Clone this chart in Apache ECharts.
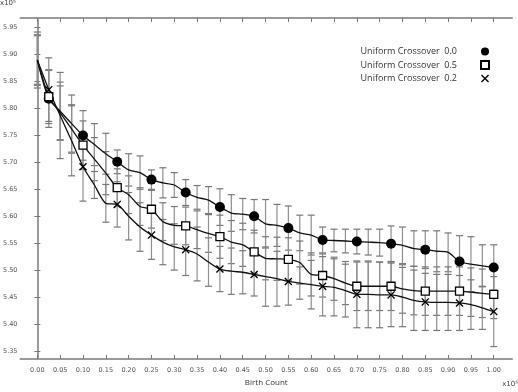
<!DOCTYPE html>
<html>
<head>
<meta charset="utf-8">
<script src="https://cdn.jsdelivr.net/npm/echarts@6/dist/echarts.min.js"></script>
<style>
html,body{margin:0;padding:0;background:#fff;}
#c{width:518px;height:392px;}
</style>
</head>
<body>
<div id="c"></div>
<script>
// Birth count (x10^5)
var birthCounts = [0.000,0.025,0.050,0.075,0.100,0.125,0.150,0.175,0.200,0.225,0.250,0.275,0.300,0.325,0.350,0.375,0.400,0.425,0.450,0.475,0.500,0.525,0.550,0.575,0.600,0.625,0.650,0.675,0.700,0.725,0.750,0.775,0.800,0.825,0.850,0.875,0.900,0.925,0.950,0.975,1.000];

// Uniform Crossover 0.0 (circles)
var meanA = [5.890,5.818,5.795,5.772,5.750,5.733,5.716,5.701,5.686,5.681,5.668,5.662,5.658,5.644,5.635,5.630,5.617,5.606,5.604,5.600,5.586,5.583,5.578,5.569,5.565,5.556,5.555,5.554,5.553,5.552,5.551,5.549,5.546,5.540,5.538,5.535,5.533,5.516,5.511,5.508,5.505];
var errA  = [0.047,0.053,0.054,0.053,0.046,0.039,0.038,0.022,0.030,0.031,0.018,0.028,0.023,0.024,0.022,0.025,0.034,0.034,0.029,0.031,0.045,0.039,0.041,0.033,0.037,0.024,0.021,0.022,0.023,0.024,0.025,0.033,0.034,0.033,0.035,0.038,0.036,0.048,0.051,0.039,0.042];

// Uniform Crossover 0.5 (squares)
var meanB = [5.890,5.822,5.792,5.762,5.732,5.706,5.680,5.653,5.640,5.618,5.613,5.590,5.583,5.582,5.575,5.568,5.562,5.552,5.547,5.534,5.522,5.521,5.520,5.514,5.492,5.490,5.484,5.476,5.470,5.470,5.470,5.470,5.465,5.462,5.461,5.461,5.461,5.461,5.459,5.457,5.455];
var errB  = [0.045,0.050,0.050,0.045,0.045,0.040,0.040,0.035,0.035,0.035,0.035,0.035,0.035,0.035,0.035,0.035,0.040,0.040,0.040,0.040,0.040,0.040,0.040,0.040,0.040,0.040,0.040,0.040,0.045,0.045,0.045,0.045,0.045,0.045,0.045,0.045,0.045,0.045,0.045,0.045,0.045];

// Uniform Crossover 0.2 (crosses)
var meanC = [5.890,5.835,5.787,5.740,5.692,5.658,5.624,5.622,5.600,5.580,5.565,5.552,5.543,5.538,5.530,5.515,5.502,5.498,5.496,5.492,5.488,5.484,5.479,5.476,5.473,5.470,5.468,5.462,5.455,5.455,5.454,5.454,5.450,5.444,5.441,5.440,5.440,5.439,5.436,5.430,5.423];
var errC  = [0.052,0.059,0.080,0.065,0.064,0.025,0.035,0.042,0.044,0.045,0.045,0.042,0.043,0.048,0.050,0.045,0.042,0.043,0.040,0.040,0.055,0.051,0.044,0.030,0.045,0.055,0.053,0.049,0.062,0.062,0.061,0.059,0.055,0.056,0.053,0.052,0.052,0.051,0.046,0.040,0.065];

var xTicks = [0,0.05,0.10,0.15,0.20,0.25,0.30,0.35,0.40,0.45,0.50,0.55,0.60,0.65,0.70,0.75,0.80,0.85,0.90,0.95,1.00];
var yTicks = [5.35,5.40,5.45,5.50,5.55,5.60,5.65,5.70,5.75,5.80,5.85,5.90,5.95];

var names = ['Uniform Crossover  0.0','Uniform Crossover  0.5','Uniform Crossover  0.2'];
var crossPath = 'path://M0,1.2 L1.2,0 L5,3.8 L8.8,0 L10,1.2 L6.2,5 L10,8.8 L8.8,10 L5,6.2 L1.2,10 L0,8.8 L3.8,5 Z';

function pairs(mean){ return birthCounts.map(function(x,i){ return [x, mean[i]]; }); }
function errData(mean, err){ return birthCounts.map(function(x,i){ return [x, mean[i]-err[i], mean[i]+err[i]]; }); }

function renderErr(params, api){
  var x = api.value(0), lo = api.value(1), hi = api.value(2);
  var p1 = api.coord([x, hi]), p2 = api.coord([x, lo]);
  var w = 3.5;
  var st = {stroke:'#8f8f8f', lineWidth:1.2};
  var cs = {stroke:'#777', lineWidth:1.2};
  return {type:'group', children:[
    {type:'line', shape:{x1:p1[0],y1:p1[1],x2:p2[0],y2:p2[1]}, style:st},
    {type:'line', shape:{x1:p1[0]-w,y1:p1[1],x2:p1[0]+w,y2:p1[1]}, style:cs},
    {type:'line', shape:{x1:p2[0]-w,y1:p2[1],x2:p2[0]+w,y2:p2[1]}, style:cs}
  ]};
}

function symFn(sym){ return function(v, p){ return (p.dataIndex % 3 === 1) ? sym : 'none'; }; }

var axisCol = '#9a9a9a';
var labelStyle = {color:'#555', fontSize:6.5, fontFamily:'DejaVu Sans'};

var chart = echarts.init(document.getElementById('c'), null, {renderer:'canvas'});
chart.setOption({
  animation:false,
  backgroundColor:'#fff',
  grid:{left:18, right:6, top:18, bottom:29},
  legend:{
    orient:'vertical', right:23, top:42, align:'right',
    itemWidth:8, itemHeight:8, itemGap:4,
    textStyle:{color:'#333', fontSize:9, fontFamily:'Open Sans', padding:[0,19,0,0]},
    data:[{name:names[0], icon:'circle'},{name:names[1], icon:'rect'},{name:names[2], icon:crossPath}]
  },
  xAxis:[{
    type:'value', min:-0.037, max:1.04, position:'bottom',
    name:'Birth Count', nameLocation:'middle', nameGap:20,
    nameTextStyle:{color:'#333', fontSize:8, fontFamily:'Open Sans'},
    axisLine:{show:true, lineStyle:{color:axisCol, width:2}},
    axisTick:{show:true, inside:true, length:4, customValues:xTicks, lineStyle:{color:'#777'}},
    axisLabel:{show:true, customValues:xTicks, margin:8, formatter:function(v){return v.toFixed(2);}, color:labelStyle.color, fontSize:labelStyle.fontSize, fontFamily:labelStyle.fontFamily},
    splitLine:{show:false}
  },{
    type:'value', min:-0.037, max:1.04, position:'top',
    axisLine:{show:true, lineStyle:{color:axisCol, width:2}},
    axisTick:{show:true, inside:true, length:4, customValues:xTicks, lineStyle:{color:'#777'}},
    axisLabel:{show:false}, splitLine:{show:false}
  }],
  yAxis:[{
    type:'value', min:5.335, max:5.968, position:'left',
    axisLine:{show:true, lineStyle:{color:axisCol, width:2}},
    axisTick:{show:true, inside:true, length:3, customValues:yTicks, lineStyle:{color:'#777'}},
    axisLabel:{show:true, customValues:yTicks, margin:3, formatter:function(v){return v.toFixed(2);}, color:labelStyle.color, fontSize:labelStyle.fontSize, fontFamily:labelStyle.fontFamily},
    splitLine:{show:false}
  },{
    type:'value', min:5.335, max:5.968, position:'right',
    axisLine:{show:true, lineStyle:{color:axisCol, width:2}},
    axisTick:{show:true, inside:true, length:3, customValues:yTicks, lineStyle:{color:'#777'}},
    axisLabel:{show:false}, splitLine:{show:false}
  }],
  graphic:[
    {type:'text', left:0, top:0, style:{text:'x10\u2075', fill:'#444', fontSize:7, fontFamily:'DejaVu Sans'}},
    {type:'text', right:0, top:381, style:{text:'x10\u2075', fill:'#444', fontSize:7, fontFamily:'DejaVu Sans'}}
  ],
  series:[
    {type:'custom', name:'errA', renderItem:renderErr, data:errData(meanA,errA), encode:{x:0,y:[1,2]}, z:1, silent:true},
    {type:'custom', name:'errB', renderItem:renderErr, data:errData(meanB,errB), encode:{x:0,y:[1,2]}, z:1, silent:true},
    {type:'custom', name:'errC', renderItem:renderErr, data:errData(meanC,errC), encode:{x:0,y:[1,2]}, z:1, silent:true},
    {type:'line', name:names[0], data:pairs(meanA), z:5, smooth:0.25,
     symbol:symFn('circle'), symbolSize:10, showAllSymbol:true,
     lineStyle:{color:'#111', width:1.3}, itemStyle:{color:'#000', borderColor:'#000', borderWidth:0}},
    {type:'line', name:names[1], data:pairs(meanB), z:5, smooth:0.25,
     symbol:symFn('rect'), symbolSize:8, showAllSymbol:true,
     lineStyle:{color:'#111', width:1.3}, itemStyle:{color:'#fff', borderColor:'#000', borderWidth:1.3}},
    {type:'line', name:names[2], data:pairs(meanC), z:5, smooth:0.25,
     symbol:symFn(crossPath), symbolSize:8, showAllSymbol:true,
     lineStyle:{color:'#111', width:1.3}, itemStyle:{color:'#000', borderColor:'#000', borderWidth:0}}
  ]
});
</script>
</body>
</html>
